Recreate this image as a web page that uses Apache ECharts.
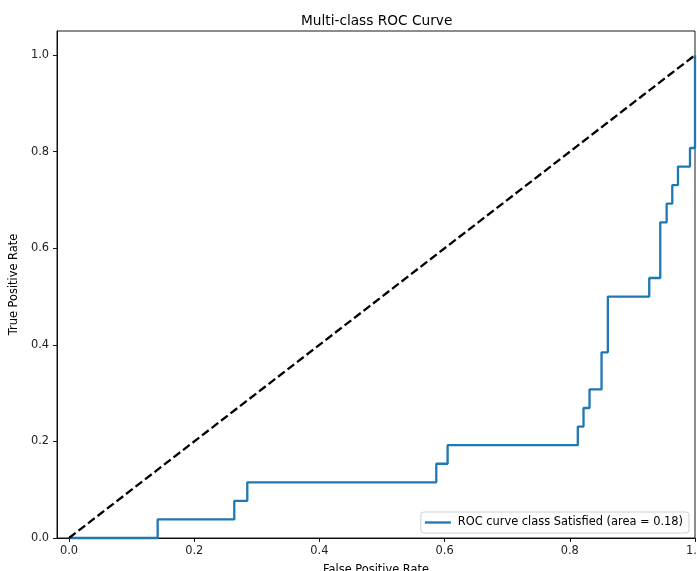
<!DOCTYPE html>
<html>
<head>
<meta charset="utf-8">
<script src="https://cdn.jsdelivr.net/npm/echarts@6/dist/echarts.min.js"></script>
<style>
html,body{margin:0;padding:0;background:#fff;}
#chart{width:697px;height:571px;}
</style>
</head>
<body>
<div id="chart"></div>
<script>
// ROC curve corner points (False Positive Rate, True Positive Rate)
var fpr = [0, 0.1416, 0.1416, 0.264, 0.264, 0.2848, 0.2848, 0.5867, 0.5867, 0.6048, 0.6048,
           0.8128, 0.8128, 0.8219, 0.8219, 0.8315, 0.8315, 0.8507, 0.8507, 0.8608, 0.8608,
           0.9269, 0.9269, 0.9445, 0.9445, 0.9547, 0.9547, 0.9637, 0.9637, 0.9728, 0.9728,
           0.992, 0.992, 1.0, 1.0];
var tpr = [0, 0, 0.0385, 0.0385, 0.0769, 0.0769, 0.1154, 0.1154, 0.1538, 0.1538, 0.1923,
           0.1923, 0.2308, 0.2308, 0.2692, 0.2692, 0.3077, 0.3077, 0.3846, 0.3846, 0.5,
           0.5, 0.5385, 0.5385, 0.6538, 0.6538, 0.6923, 0.6923, 0.7308, 0.7308, 0.7692,
           0.7692, 0.8077, 0.8077, 1.0];
var diagX = [0, 1];
var diagY = [0, 1];
var tickValues = [0, 0.2, 0.4, 0.6, 0.8, 1.0];
var seriesName = 'ROC curve class Satisfied (area = 0.18)';
var titleText = 'Multi-class ROC Curve';
var xName = 'False Positive Rate';
var yName = 'True Positive Rate';

var FONT = 'DejaVu Sans';
var chart = echarts.init(document.getElementById('chart'), null, {renderer: 'canvas'});

function pairs(xs, ys) { return xs.map(function (x, i) { return [x, ys[i]]; }); }

var axisCommon = {
  type: 'value',
  splitLine: {show: false},
  axisLine: {show: true, onZero: false, lineStyle: {color: '#000', width: 0.9}},
  axisTick: {show: true, inside: false, length: 4, lineStyle: {color: '#000', width: 0.9}, customValues: tickValues},
  axisLabel: {
    customValues: tickValues,
    color: '#222', fontFamily: FONT, fontSize: 11.4,
    formatter: function (v) { return v.toFixed(1); },
    showMinLabel: true, showMaxLabel: true
  },
  nameLocation: 'middle',
  nameTextStyle: {color: '#000', fontFamily: FONT, fontSize: 11.4}
};

var option = {
  animation: false,
  backgroundColor: '#fff',
  title: {
    text: titleText, left: 301, top: 14, padding: 0,
    textStyle: {color: '#000', fontFamily: FONT, fontSize: 13.7, fontWeight: 'normal'}
  },
  grid: {left: 57, right: 2, top: 31, bottom: 33, show: true, borderColor: '#000', borderWidth: 0.9,
         containLabel: false, outerBoundsMode: 'none'},
  xAxis: Object.assign({}, axisCommon, {
    min: -0.0192, max: 1.0, name: xName, nameGap: 27,
    axisLabel: Object.assign({}, axisCommon.axisLabel, {margin: 8})
  }),
  yAxis: Object.assign({}, axisCommon, {
    min: 0, max: 1.05, name: yName, nameGap: 31,
    axisLabel: Object.assign({}, axisCommon.axisLabel, {margin: 8})
  }),
  legend: {
    data: [seriesName],
    right: 8, bottom: 38,
    orient: 'horizontal',
    icon: 'rect', itemWidth: 26, itemHeight: 2.3,
    padding: [4, 6, 4, 4],
    borderColor: '#d0d0d0', borderWidth: 1, borderRadius: 3,
    backgroundColor: 'rgba(255,255,255,0.8)',
    textStyle: {color: '#000', fontFamily: FONT, fontSize: 11.4, lineHeight: 13, padding: [0, 0, 0, 2]}
  },
  series: [
    {
      name: seriesName, type: 'line', data: pairs(fpr, tpr),
      showSymbol: false, symbol: 'none', clip: false,
      lineStyle: {color: '#1f77b4', width: 2.3},
      itemStyle: {color: '#1f77b4'},
      z: 2
    },
    {
      name: 'diag', type: 'line', data: pairs(diagX, diagY),
      showSymbol: false, symbol: 'none', clip: false,
      lineStyle: {color: '#000', width: 2.3, type: [8.4, 3.6]},
      itemStyle: {color: '#000'},
      z: 3
    }
  ]
};
chart.setOption(option);
</script>
</body>
</html>
